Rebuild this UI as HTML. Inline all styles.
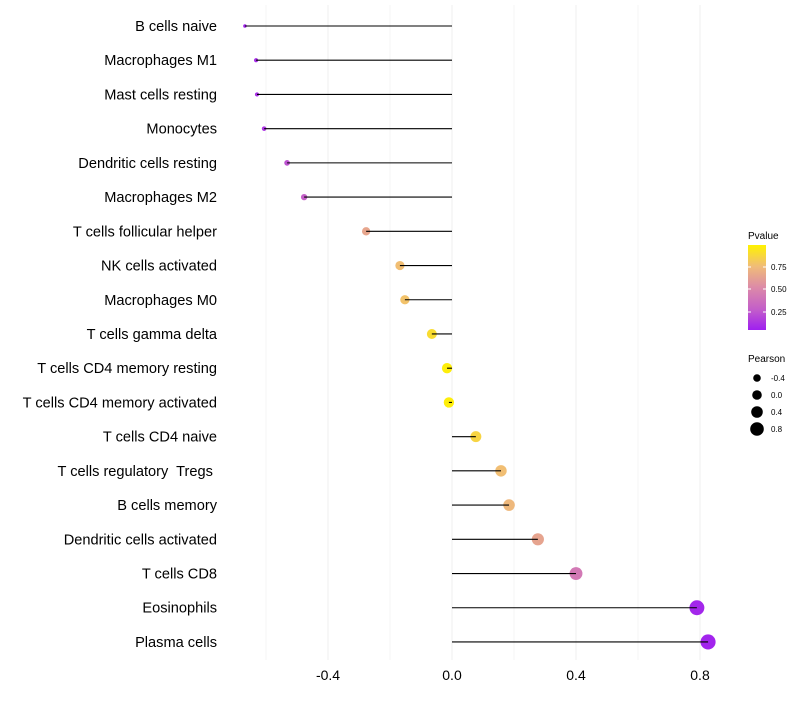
<!DOCTYPE html>
<html><head><meta charset="utf-8"><style>
body{margin:0;background:#fff;font-family:"Liberation Sans",sans-serif;}
text{white-space:pre;}
</style></head><body>
<svg id="chart" width="800" height="700" xmlns="http://www.w3.org/2000/svg" font-family="Liberation Sans, sans-serif">
<defs><linearGradient id="pgrad" x1="0" y1="1" x2="0" y2="0">
<stop offset="0" stop-color="#9f1ff0"/><stop offset="0.25" stop-color="#c460c8"/><stop offset="0.5" stop-color="#dc8aa8"/><stop offset="0.75" stop-color="#f0bc78"/><stop offset="1" stop-color="#fff200"/></linearGradient></defs>
<g id="grid"></g>
<g id="points"></g>
<g id="stems"></g>
<g id="ylabels"></g>
<g id="xlabels"></g>
<g>
<text x="748" y="239" font-size="10" fill="#000">Pvalue</text>
<rect x="748" y="245" width="18" height="85" fill="url(#pgrad)"/>
<line x1="748" y1="267" x2="751" y2="267" stroke="#fff"/><line x1="763" y1="267" x2="766" y2="267" stroke="#fff"/>
<line x1="748" y1="289" x2="751" y2="289" stroke="#fff"/><line x1="763" y1="289" x2="766" y2="289" stroke="#fff"/>
<line x1="748" y1="312" x2="751" y2="312" stroke="#fff"/><line x1="763" y1="312" x2="766" y2="312" stroke="#fff"/>
<text x="771" y="270" font-size="8">0.75</text>
<text x="771" y="292" font-size="8">0.50</text>
<text x="771" y="315" font-size="8">0.25</text>
</g>
<g>
<text x="748" y="362" font-size="10">Pearson</text>
<circle cx="757" cy="378" r="3.8" fill="#000"/><text x="771" y="381" font-size="8">-0.4</text>
<circle cx="757" cy="395" r="4.8" fill="#000"/><text x="771" y="398" font-size="8">0.0</text>
<circle cx="757" cy="412" r="5.8" fill="#000"/><text x="771" y="415" font-size="8">0.4</text>
<circle cx="757" cy="429" r="6.8" fill="#000"/><text x="771" y="432" font-size="8">0.8</text>
</g>
</svg>
<script>
const categories=["B cells naive","Macrophages M1","Mast cells resting","Monocytes","Dendritic cells resting","Macrophages M2","T cells follicular helper","NK cells activated","Macrophages M0","T cells gamma delta","T cells CD4 memory resting","T cells CD4 memory activated","T cells CD4 naive","T cells regulatory  Tregs ","B cells memory","Dendritic cells activated","T cells CD8","Eosinophils","Plasma cells"];
const pearson=[-0.668,-0.632,-0.629,-0.606,-0.532,-0.477,-0.277,-0.168,-0.152,-0.065,-0.016,-0.01,0.077,0.158,0.184,0.277,0.4,0.79,0.826];
const pvalues=[0.02,0.05,0.06,0.08,0.2,0.25,0.64,0.76,0.78,0.9,0.98,0.98,0.86,0.76,0.73,0.63,0.4,0.03,0.02];
const xTicks=[-0.4,0.0,0.4,0.8];
const xMinor=[-0.6,-0.2,0.2,0.6];
const NS="http://www.w3.org/2000/svg";
const x=v=>452+v*310;
const y=i=>26+i*34.22;
function mk(t,a,p){const e=document.createElementNS(NS,t);for(const k in a)e.setAttribute(k,a[k]);document.getElementById(p).appendChild(e);return e;}
const stops=[[0,[159,31,240]],[0.25,[196,96,200]],[0.5,[220,138,168]],[0.75,[240,188,120]],[1,[255,242,0]]];
function col(p){for(let i=1;i<stops.length;i++){if(p<=stops[i][0]){const a=stops[i-1],b=stops[i],t=(p-a[0])/(b[0]-a[0]);return "rgb("+a[1].map((c,j)=>Math.round(c+(b[1][j]-c)*t)).join(",")+")";}}return "rgb(255,242,0)";}
xMinor.forEach(v=>{const l=mk("line",{x1:x(v),x2:x(v),y1:5,y2:660,stroke:"#f4f4f4","stroke-width":1},"grid");});
xTicks.forEach(v=>{const l=mk("line",{x1:x(v),x2:x(v),y1:5,y2:660,stroke:"#efefef","stroke-width":1},"grid");
const t=mk("text",{x:x(v),y:680,"font-size":14,"text-anchor":"middle",fill:"#000"},"xlabels");t.textContent=v.toFixed(1);});
categories.forEach((c,i)=>{const t=mk("text",{x:217,y:y(i)+5,"font-size":14.6,"text-anchor":"end",fill:"#000"},"ylabels");t.textContent=c;
const r=Math.sqrt(Math.max(2.5,3+(pearson[i]+0.67)*36));
const ci=mk("circle",{cx:x(pearson[i]),cy:y(i),r:r,fill:col(pvalues[i])},"points");
const s=mk("line",{x1:x(0),x2:x(pearson[i]),y1:y(i),y2:y(i),stroke:"#000","stroke-width":1.1},"stems");});
</script>
</body></html>
